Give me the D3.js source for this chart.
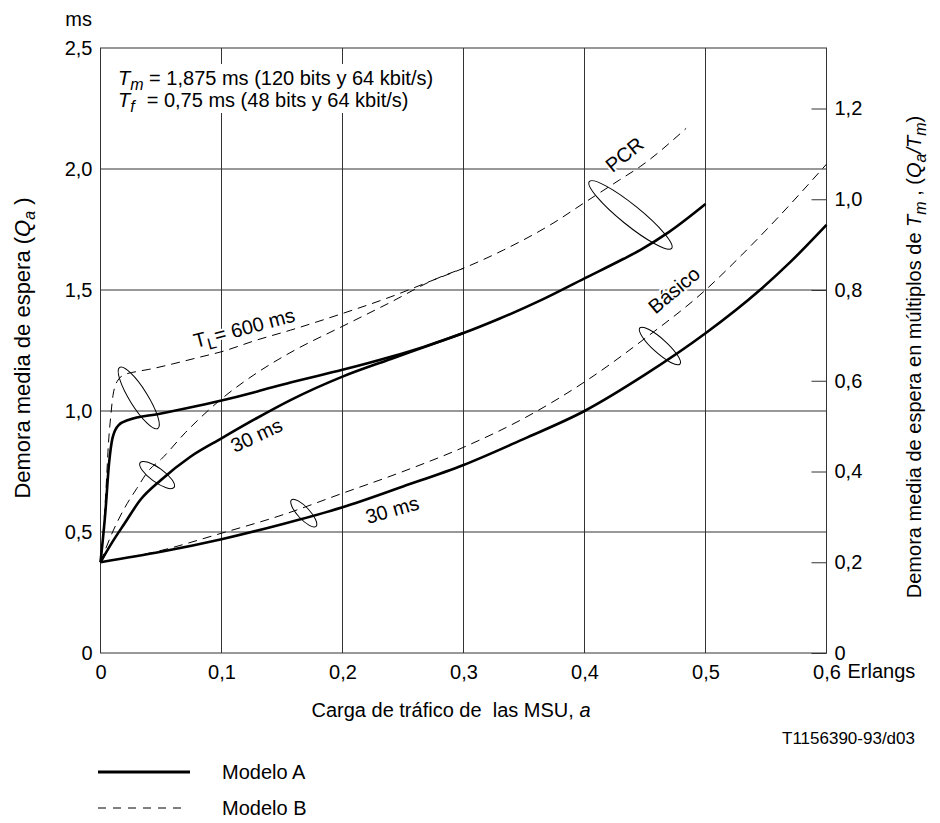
<!DOCTYPE html>
<html>
<head>
<meta charset="utf-8">
<script src="https://cdn.jsdelivr.net/npm/d3@7"></script>
<style>
  body { margin: 0; background: #fff; }
  svg { font-family: "Liberation Sans", Arial, sans-serif; }
</style>
</head>
<body>
<svg id="chart" width="940" height="823"></svg>
<script>
// axis ticks
const xTicks = [0, 0.1, 0.2, 0.3, 0.4, 0.5, 0.6];
const yTicks = [0, 0.5, 1.0, 1.5, 2.0, 2.5];
const rTicks = [0, 0.2, 0.4, 0.6, 0.8, 1.0, 1.2];
const Tm = 1.875; // ms

// curves, [load a (Erlangs), Qa (ms)]
// PCR, T_L = 600 ms
const pcr600A = [[0, 0.375], [0.004, 0.58], [0.007, 0.78], [0.01, 0.89], [0.015, 0.942], [0.023, 0.963],
  [0.048, 0.988], [0.07, 1.01], [0.1, 1.043], [0.129, 1.08], [0.157, 1.118], [0.2, 1.17],
  [0.24, 1.224], [0.267, 1.265], [0.3, 1.322], [0.33, 1.382], [0.365, 1.46], [0.4, 1.548],
  [0.432, 1.628], [0.446, 1.665], [0.47, 1.74], [0.5, 1.855]];
const pcr600B = [[0, 0.375], [0.003, 0.55], [0.005, 0.72], [0.0065, 0.86], [0.0085, 0.98], [0.0105, 1.07],
  [0.0145, 1.128], [0.02, 1.15], [0.03, 1.163], [0.04, 1.172], [0.06, 1.195], [0.08, 1.22],
  [0.1, 1.245], [0.129, 1.293], [0.157, 1.334], [0.2, 1.403], [0.24, 1.472], [0.275, 1.541],
  [0.3, 1.59], [0.333, 1.665], [0.374, 1.776], [0.4, 1.861], [0.429, 1.955], [0.446, 2.01], [0.484, 2.168]];
// PCR, T_L = 30 ms
const pcr30A = [[0, 0.375], [0.01, 0.46], [0.02, 0.536], [0.033, 0.633], [0.05, 0.715], [0.074, 0.81],
  [0.1, 0.887], [0.129, 0.97], [0.157, 1.045], [0.2, 1.142], [0.24, 1.215], [0.27, 1.268], [0.3, 1.322]];
const pcr30B = [[0, 0.375], [0.01, 0.5], [0.02, 0.6], [0.03, 0.68], [0.04, 0.755], [0.05, 0.8],
  [0.07, 0.91], [0.1, 1.05], [0.13, 1.16], [0.16, 1.25], [0.2, 1.35], [0.24, 1.45], [0.275, 1.541], [0.3, 1.59]];
// Basico, 30 ms
const basicA = [[0, 0.375], [0.05, 0.418], [0.1, 0.47], [0.15, 0.532], [0.2, 0.602], [0.25, 0.688],
  [0.3, 0.777], [0.35, 0.885], [0.4, 1.0], [0.45, 1.15], [0.5, 1.321], [0.545, 1.5], [0.57, 1.615], [0.6, 1.769]];
const basicB = [[0, 0.375], [0.047, 0.42], [0.1, 0.495], [0.15, 0.57], [0.2, 0.66], [0.25, 0.75],
  [0.3, 0.85], [0.35, 0.97], [0.4, 1.12], [0.45, 1.3], [0.5, 1.5], [0.53, 1.645], [0.56, 1.8], [0.6, 2.02]];

const svg = d3.select("#chart");

const x = d3.scaleLinear().domain([0, 0.6]).range([100.5, 826.5]);
const y = d3.scaleLinear().domain([0, 2.5]).range([653, 48]);
const yr = d3.scaleLinear().domain([0, 2.5 / Tm]).range([653, 48]);

const fmt = d => d === 0 ? "0" : d3.format(".1f")(d).replace(".", ",");

// grid
svg.append("g").selectAll("line")
  .data(xTicks.slice(1, -1))
  .join("line")
  .attr("x1", d => x(d)).attr("x2", d => x(d))
  .attr("y1", y(0)).attr("y2", y(2.5))
  .attr("stroke", "#333").attr("stroke-width", 1);

svg.append("g").selectAll("line")
  .data(yTicks.slice(1, -1))
  .join("line")
  .attr("x1", x(0)).attr("x2", x(0.6))
  .attr("y1", d => y(d)).attr("y2", d => y(d))
  .attr("stroke", "#333").attr("stroke-width", 1);

svg.append("rect")
  .attr("x", x(0)).attr("y", y(2.5))
  .attr("width", x(0.6) - x(0)).attr("height", y(0) - y(2.5))
  .attr("fill", "none").attr("stroke", "#333").attr("stroke-width", 1);

// axes
const fs = "20px";
const xAxis = svg.append("g")
  .attr("transform", `translate(0,${y(0)})`)
  .call(d3.axisBottom(x).tickValues(xTicks).tickFormat(fmt).tickSize(0).tickPadding(12));
const yAxis = svg.append("g")
  .attr("transform", `translate(${x(0)},0)`)
  .call(d3.axisLeft(y).tickValues(yTicks).tickFormat(fmt).tickSize(0).tickPadding(8));
const rAxis = svg.append("g")
  .attr("transform", `translate(${x(0.6)},0)`)
  .call(d3.axisRight(yr).tickValues(rTicks).tickFormat(fmt).tickSize(-15).tickPadding(8));

[xAxis, yAxis, rAxis].forEach(g => {
  g.select(".domain").remove();
  g.selectAll("text").attr("font-size", fs).attr("font-family", null).attr("fill", "#000");
  g.selectAll("line").attr("stroke", "#333");
});

// box behind the constants
svg.append("rect")
  .attr("x", 110).attr("y", 64).attr("width", 345).attr("height", 49)
  .attr("fill", "#fff");

const consts = svg.append("g").attr("font-size", fs);
const t1 = consts.append("text").attr("x", 118).attr("y", 85);
t1.append("tspan").attr("font-style", "italic").text("T");
t1.append("tspan").attr("font-style", "italic").attr("font-size", "16px").attr("dy", 5).text("m");
t1.append("tspan").attr("dy", -5).text(" = 1,875 ms (120 bits y 64 kbit/s)");
const t2 = consts.append("text").attr("x", 118).attr("y", 107);
t2.append("tspan").attr("font-style", "italic").text("T");
t2.append("tspan").attr("font-style", "italic").attr("font-size", "16px").attr("dy", 5).text("f");
t2.append("tspan").attr("dy", -5).attr("dx", 12).text("= 0,75 ms (48 bits y 64 kbit/s)");

// curves
const line = d3.line()
  .x(d => x(d[0]))
  .y(d => y(d[1]))
  .curve(d3.curveMonotoneX);

const solid = [pcr600A, pcr30A, basicA];
const dashed = [pcr600B, pcr30B, basicB];

svg.append("g").selectAll("path")
  .data(dashed)
  .join("path")
  .attr("d", line)
  .attr("fill", "none").attr("stroke", "#000")
  .attr("stroke-width", 1).attr("stroke-dasharray", "9,6");

svg.append("g").selectAll("path")
  .data(solid)
  .join("path")
  .attr("d", line)
  .attr("fill", "none").attr("stroke", "#000")
  .attr("stroke-width", 2.6).attr("stroke-linejoin", "round");

// group loops
const loops = [
  { a: 0.438, q: 1.81, rx: 53, ry: 10, rot: 39 },
  { a: 0.0316, q: 1.054, rx: 36, ry: 9, rot: 58 },
  { a: 0.0468, q: 0.7355, rx: 21, ry: 7, rot: 36 },
  { a: 0.168, q: 0.578, rx: 18, ry: 6, rot: 47 },
  { a: 0.4623, q: 1.2686, rx: 27, ry: 7, rot: 42 }
];
svg.append("g").selectAll("ellipse")
  .data(loops)
  .join("ellipse")
  .attr("transform", d => `translate(${x(d.a)},${y(d.q)}) rotate(${d.rot})`)
  .attr("rx", d => d.rx).attr("ry", d => d.ry)
  .attr("fill", "none").attr("stroke", "#000").attr("stroke-width", 1);

// curve labels
const labels = svg.append("g").attr("font-size", fs)
  .attr("stroke", "#fff").attr("stroke-width", 4).attr("paint-order", "stroke");

function label(a, q, rot, anchor) {
  return labels.append("text")
    .attr("transform", `translate(${x(a)},${y(q)}) rotate(${rot})`)
    .attr("text-anchor", anchor || "start");
}
label(0.433, 2.06, -39, "middle").attr("dy", "0.35em").text("PCR");
label(0.474, 1.5, -40, "middle").attr("dy", "0.35em").text("Básico");
const tl = label(0.0788, 1.26, -15);
tl.append("tspan").text("T");
tl.append("tspan").attr("font-size", "16px").attr("dy", 5).text("L");
tl.append("tspan").attr("dy", -5).text("= 600 ms");
label(0.111, 0.826, -25).text("30 ms");
label(0.221, 0.533, -16).text("30 ms");

// axis titles
svg.append("text").attr("x", 92).attr("y", 26).attr("text-anchor", "end")
  .attr("font-size", fs).text("ms");

svg.append("text").attr("x", x(0.6) + 21).attr("y", 678)
  .attr("font-size", fs).text("Erlangs");

const xt = svg.append("text").attr("x", 451).attr("y", 717)
  .attr("text-anchor", "middle").attr("font-size", fs)
  .attr("xml:space", "preserve");
xt.append("tspan").text("Carga de tráfico de  las MSU, ");
xt.append("tspan").attr("font-style", "italic").text("a");

svg.append("text").attr("x", 782).attr("y", 744)
  .attr("font-size", "17px").text("T1156390-93/d03");

const ly = svg.append("text")
  .attr("transform", "translate(30,348) rotate(-90)")
  .attr("text-anchor", "middle").attr("font-size", "22px");
ly.append("tspan").text("Demora media de espera (");
ly.append("tspan").attr("font-style", "italic").text("Q");
ly.append("tspan").attr("font-style", "italic").attr("font-size", "16px").attr("dy", 5).text("a");
ly.append("tspan").attr("dy", -5).text(" )");

const ry = svg.append("text")
  .attr("transform", "translate(921,357) rotate(-90)")
  .attr("text-anchor", "middle").attr("font-size", fs);
ry.append("tspan").text("Demora media de espera en múltiplos de ");
ry.append("tspan").attr("font-style", "italic").text("T");
ry.append("tspan").attr("font-style", "italic").attr("font-size", "16px").attr("dy", 5).text("m");
ry.append("tspan").attr("dy", -5).text(" , (");
ry.append("tspan").attr("font-style", "italic").text("Q");
ry.append("tspan").attr("font-style", "italic").attr("font-size", "16px").attr("dy", 5).text("a");
ry.append("tspan").attr("dy", -5).attr("font-style", "italic").text("/T");
ry.append("tspan").attr("font-style", "italic").attr("font-size", "16px").attr("dy", 5).text("m");
ry.append("tspan").attr("dy", -5).text(")");

// legend
const legend = svg.append("g").attr("font-size", fs);
legend.append("line").attr("x1", 98).attr("x2", 190).attr("y1", 772).attr("y2", 772)
  .attr("stroke", "#000").attr("stroke-width", 3);
legend.append("text").attr("x", 222).attr("y", 779).text("Modelo A");
legend.append("line").attr("x1", 98).attr("x2", 186).attr("y1", 808).attr("y2", 808)
  .attr("stroke", "#000").attr("stroke-width", 1).attr("stroke-dasharray", "8,7");
legend.append("text").attr("x", 222).attr("y", 815).text("Modelo B");
</script>
</body>
</html>
